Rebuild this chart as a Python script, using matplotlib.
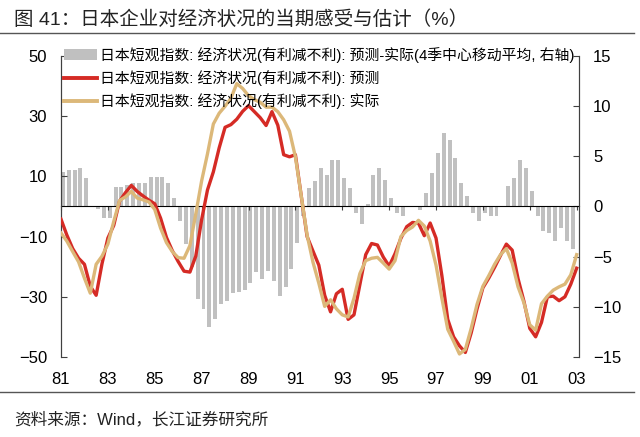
import numpy as np
import matplotlib
matplotlib.use("Agg")
import matplotlib.pyplot as plt
from matplotlib.lines import Line2D
from matplotlib.patches import Patch

plt.rcParams["font.family"] = ["Liberation Sans", "Noto Sans CJK SC"]

# quarterly time axis, 1981Q1 .. 2003Q1
t_line = 1981 + 0.25 * np.arange(89)
# bars: 4-quarter centred moving average of forecast - actual, 1981Q1 .. 2002Q4
t_bar = 1981.08 + 0.25 * np.arange(88)

forecast = [
    -4.2, -9.5, -14.0, -17.2, -19.2, -26.5, -29.5, -19.0,
    -10.5, -6.3, 1.8, 4.6, 7.0, 5.0, 3.5, 2.1,
    0.9, -3.9, -10.3, -14.7, -18.3, -21.5, -21.8, -16.5,
    -4.4, 5.5, 11.5, 19.5, 26.3, 27.2, 29.0, 31.6,
    33.5, 31.5, 29.5, 26.9, 31.5, 27.0, 17.2, 16.5,
    17.2, 3.5, -10.0, -14.8, -19.5, -29.5, -35.0, -29.0,
    -27.5, -37.5, -36.0, -26.0, -16.0, -12.3, -12.8, -16.8,
    -19.8, -15.7, -10.6, -6.7, -5.3, -5.5, -9.7, -5.5,
    -10.5, -23.0, -37.5, -43.3, -46.3, -48.5, -42.0, -34.0,
    -27.0, -23.8, -20.2, -16.3, -12.5, -14.5, -24.0, -31.5,
    -40.5, -43.3, -38.5, -30.0, -29.8, -31.3, -30.0, -25.8,
    -20.5,
]

actual = [
    -8.8, -11.5, -15.0, -18.4, -23.8, -28.8, -19.2, -16.5,
    -12.5, -5.0, 2.0, 3.2, 5.0, 2.8, 2.2, 1.5,
    -1.0, -7.2, -12.0, -15.0, -17.0, -17.2, -13.0, -2.5,
    8.5, 17.5, 27.4, 31.0, 33.3, 36.0, 40.8, 39.2,
    36.8, 35.5, 34.6, 33.0, 33.0, 31.5, 28.8, 25.0,
    16.5, 3.5, -9.5, -18.5, -25.5, -33.2, -31.0, -34.0,
    -36.0, -36.7, -30.5, -22.3, -18.0, -17.2, -16.9, -18.8,
    -20.8, -18.0, -10.0, -8.0, -6.8, -4.6, -6.5, -11.5,
    -19.5, -30.5, -40.8, -44.8, -49.0, -47.5, -40.5, -32.5,
    -26.5, -23.0, -19.2, -16.0, -14.0, -18.8, -26.7, -32.0,
    -39.3, -41.1, -32.3, -29.8, -27.8, -26.7, -25.8, -22.7,
    -16.0,
]

diff_ma = [
    3.4, 3.6, 3.6, 3.8, 2.8, 0.0, -0.3, -1.1,
    -1.1, 1.9, 1.9, 2.1, 2.3, 2.3, 2.3, 2.9,
    2.9, 2.9, 2.3, 0.8, -1.4, -3.7, -6.0, -9.2,
    -10.2, -12.0, -11.2, -9.7, -9.4, -8.6, -8.5, -8.3,
    -7.6, -6.5, -7.2, -6.4, -7.4, -8.9, -8.0, -6.2,
    -3.65, -0.9, 1.8, 2.5, 3.8, 3.1, 4.6, 4.6,
    2.85, 1.8, -0.66, -1.7, 0.27, 3.1, 3.8, 2.6,
    0.83, -0.66, -0.96, 0.0, 0.0, -0.4, 1.33, 3.3,
    5.3, 7.3, 6.6, 4.8, 2.3, 1.0, -0.66, -1.46,
    -0.66, -0.93, -0.93, 0.0, 2.05, 2.8, 4.6, 3.8,
    1.5, -0.93, -2.45, -2.65, -3.45, -2.1, -3.45, -4.2,
]

year_ticks = list(range(1981, 2004, 2))
year_labels = [f"{y % 100:02d}" for y in year_ticks]
left_ticks = [-50, -30, -10, 10, 30, 50]
right_ticks = [-15, -10, -5, 0, 5, 10, 15]

label_bar = "日本短观指数: 经济状况(有利减不利): 预测-实际(4季中心移动平均, 右轴)"
label_fc = "日本短观指数: 经济状况(有利减不利): 预测"
label_ac = "日本短观指数: 经济状况(有利减不利): 实际"

RED = "#d52b25"
TAN = "#dcb879"
GRAY = "#c0c0c0"
AXC = "#404040"

fig = plt.figure(figsize=(6.4, 4.37), dpi=100)
ax = fig.add_axes([0.0953, 0.1831, 0.8094, 0.6888])
ax2 = ax.twinx()

# bars on the right axis, behind the lines
ax2.bar(t_bar, diff_ma, width=0.17, color=GRAY, zorder=1)
ax2.set_ylim(-15, 15)
ax2.set_yticks(right_ticks)

ax.plot(t_line, forecast, color=RED, lw=2.4, solid_joinstyle="round", zorder=3)
ax.plot(t_line, actual, color=TAN, lw=2.4, solid_joinstyle="round", zorder=4)
ax.set_ylim(-50, 50)
ax.set_yticks(left_ticks)
ax.set_xlim(1981, 2003.1)
ax.set_xticks(year_ticks)
ax.set_xticklabels(year_labels)

ax.set_zorder(ax2.get_zorder() + 1)
ax.patch.set_visible(False)

for a in (ax, ax2):
    a.spines["top"].set_visible(False)
    a.spines["bottom"].set_visible(False)
    a.spines["left"].set_color(AXC)
    a.spines["right"].set_color(AXC)
ax.tick_params(axis="x", length=0, pad=11, labelsize=12)
ax.tick_params(axis="y", direction="in", length=4, color=AXC, pad=10, labelsize=12)
ax2.tick_params(axis="y", direction="in", length=4, color=AXC, pad=10, labelsize=12)

# zero line with small year ticks
sec = ax.secondary_xaxis(0.5)
sec.set_xticks(year_ticks)
sec.xaxis.set_ticklabels([])
sec.tick_params(axis="x", direction="in", length=3, color=AXC)
sec.spines["bottom"].set_color(AXC)
sec.spines["bottom"].set_linewidth(1.0)

handles = [
    Patch(facecolor=GRAY, edgecolor="none"),
    Line2D([], [], color=RED, lw=2.8),
    Line2D([], [], color=TAN, lw=2.8),
]
leg = ax.legend(handles, [label_bar, label_fc, label_ac], loc="upper left",
                bbox_to_anchor=(-0.006, 1.05), frameon=False, fontsize=10.7,
                handlelength=2.2, handletextpad=0.25, labelspacing=0.48,
                borderaxespad=0.0)

fig.text(0.022, 0.9555, "图 41：日本企业对经济状况的当期感受与估计（%）",
         fontsize=14, va="center", ha="left", color="#222222")
fig.add_artist(Line2D([0.0, 0.99], [0.9245, 0.9245], color="#555555", lw=1.0))
fig.add_artist(Line2D([0.0, 0.99], [0.1023, 0.1023], color="#555555", lw=1.0))
fig.text(0.022, 0.041, "资料来源：Wind，长江证券研究所", fontsize=12,
         va="center", ha="left", color="#222222")

fig.savefig("out.png", dpi=100)
